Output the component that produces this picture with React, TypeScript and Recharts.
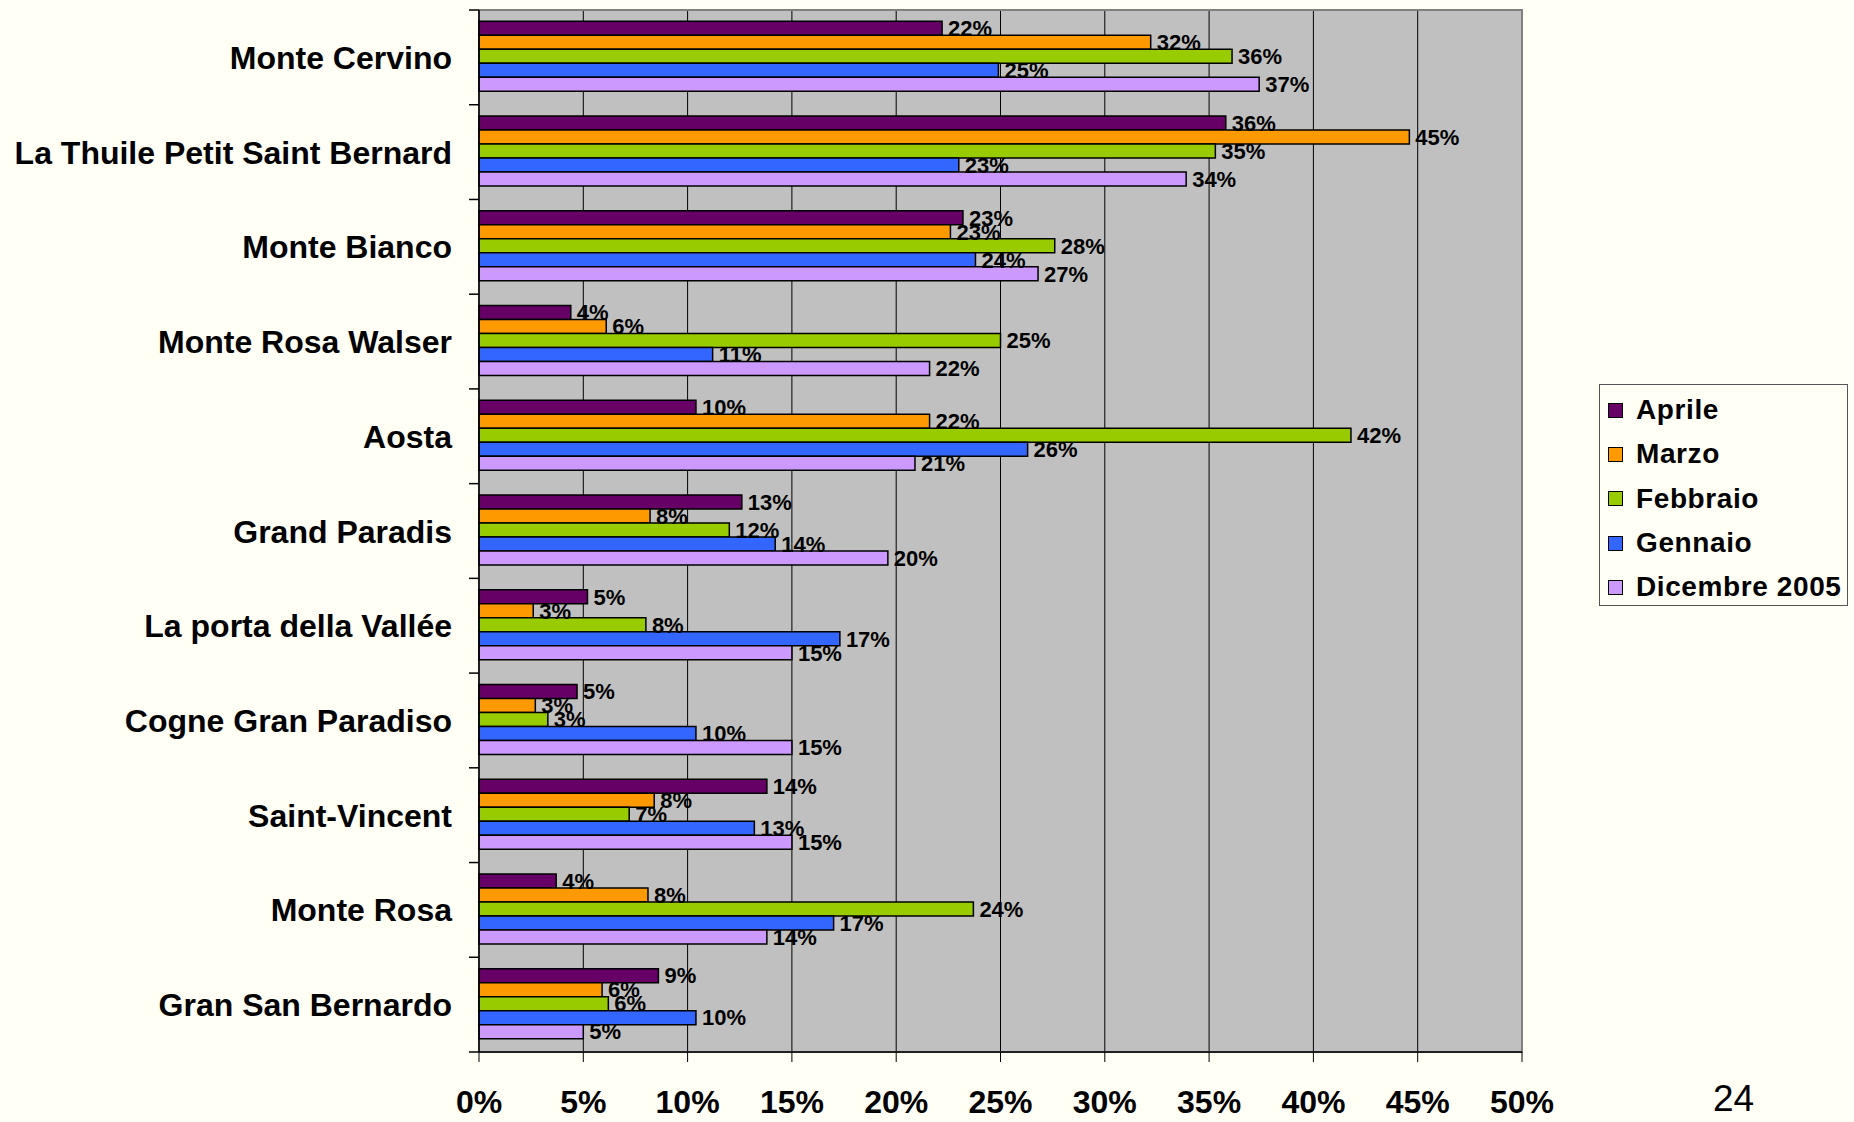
import React from 'react';
import { BarChart, Bar, XAxis, YAxis, CartesianGrid, Legend, LabelList, ReferenceArea } from 'recharts';

const categories = [
  'Monte Cervino',
  'La Thuile Petit Saint Bernard',
  'Monte Bianco',
  'Monte Rosa Walser',
  'Aosta',
  'Grand Paradis',
  'La porta della Vallée',
  'Cogne Gran Paradiso',
  'Saint-Vincent',
  'Monte Rosa',
  'Gran San Bernardo',
];

const aprile = [22.2, 35.8, 23.2, 4.4, 10.4, 12.6, 5.2, 4.7, 13.8, 3.7, 8.6];
const marzo = [32.2, 44.6, 22.6, 6.1, 21.6, 8.2, 2.6, 2.7, 8.4, 8.1, 5.9];
const febbraio = [36.1, 35.3, 27.6, 25.0, 41.8, 12.0, 8.0, 3.3, 7.2, 23.7, 6.2];
const gennaio = [24.9, 23.0, 23.8, 11.2, 26.3, 14.2, 17.3, 10.4, 13.2, 17.0, 10.4];
const dicembre = [37.4, 33.9, 26.8, 21.6, 20.9, 19.6, 15.0, 15.0, 15.0, 13.8, 5.0];

const xTicks = [0, 5, 10, 15, 20, 25, 30, 35, 40, 45, 50];

const series = [
  { key: 'aprile', name: 'Aprile', color: '#660066', values: aprile },
  { key: 'marzo', name: 'Marzo', color: '#FF9900', values: marzo },
  { key: 'febbraio', name: 'Febbraio', color: '#99CC00', values: febbraio },
  { key: 'gennaio', name: 'Gennaio', color: '#3366FF', values: gennaio },
  { key: 'dicembre', name: 'Dicembre 2005', color: '#CC99FF', values: dicembre },
];

const data = categories.map((name, i) => {
  const row: Record<string, string | number> = { name };
  series.forEach((s) => {
    row[s.key] = s.values[i];
  });
  return row;
});

const FONT = "'Liberation Sans', Arial, Helvetica, sans-serif";
const BG = '#FFFFF6';
const TICK_GAP = 27;

// category label plus the small tick marks at the band edges
const CategoryTick = (props: any) => {
  const { x, y, payload, index } = props;
  const half = payload?.offset ?? 0;
  const axisX = x + TICK_GAP;
  return (
    <g>
      <line x1={axisX - 10} x2={axisX} y1={y - half} y2={y - half} stroke="#000" strokeWidth={1.5} />
      {index === categories.length - 1 && (
        <line x1={axisX - 10} x2={axisX} y1={y + half} y2={y + half} stroke="#000" strokeWidth={1.5} />
      )}
      <text
        x={x}
        y={y}
        dy="0.36em"
        textAnchor="end"
        fill="#000"
        fontSize={32}
        fontWeight="bold"
        fontFamily={FONT}
      >
        {payload.value}
      </text>
    </g>
  );
};

const LegendBox = () => (
  <div
    style={{
      border: '1px solid #555',
      background: BG,
      padding: '3px 0 0 8px',
      boxSizing: 'border-box',
      width: 249,
      height: 222,
      fontFamily: FONT,
    }}
  >
    {series.map((s) => (
      <div key={s.key} style={{ display: 'flex', alignItems: 'center', height: 44.3 }}>
        <span
          style={{
            display: 'inline-block',
            width: 13,
            height: 13,
            background: s.color,
            border: '1.5px solid #000',
            marginRight: 13,
          }}
        />
        <span style={{ fontSize: 28, fontWeight: 'bold', color: '#000', letterSpacing: 0.6 }}>{s.name}</span>
      </div>
    ))}
  </div>
);

const App = () => {
  return (
    <div style={{ position: 'absolute', left: 0, top: 0, width: 1854, height: 1122, background: BG, overflow: 'hidden' }}>
      <BarChart
        width={1854}
        height={1122}
        data={data}
        layout="vertical"
        margin={{ top: 10, right: 332, bottom: 0, left: 0 }}
        barCategoryGap="12%"
        barGap={0}
      >
        <CartesianGrid horizontal={false} stroke="#000" strokeWidth={1} fill="#C0C0C0" fillOpacity={1} />
        <ReferenceArea x1={0} x2={50} fill="none" stroke="#808080" strokeWidth={2} ifOverflow="visible" />
        <XAxis
          type="number"
          domain={[0, 50]}
          ticks={xTicks}
          tickFormatter={(v: number) => `${v}%`}
          height={70}
          tickSize={10}
          tickMargin={28}
          axisLine={{ stroke: '#000', strokeWidth: 1.5 }}
          tickLine={{ stroke: '#000' }}
          tick={{ fill: '#000', fontSize: 32, fontWeight: 'bold', fontFamily: FONT }}
          interval={0}
        />
        <YAxis
          type="category"
          dataKey="name"
          width={479}
          axisLine={{ stroke: '#000', strokeWidth: 1.5 }}
          tickLine={false}
          tickSize={0}
          tickMargin={TICK_GAP}
          interval={0}
          tick={<CategoryTick />}
        />
        <Legend
          layout="vertical"
          align="center"
          verticalAlign="middle"
          content={() => <LegendBox />}
          wrapperStyle={{ position: 'absolute', left: 1599, top: 384, width: 249, height: 222 }}
        />
        {series.map((s) => (
          <Bar
            key={s.key}
            dataKey={s.key}
            name={s.name}
            fill={s.color}
            stroke="#000"
            strokeWidth={1.5}
            isAnimationActive={false}
          >
            <LabelList
              dataKey={s.key}
              position="right"
              offset={6}
              formatter={(v: number) => `${Math.round(v)}%`}
              style={{ fill: '#000', fontSize: 22, fontWeight: 'bold', fontFamily: FONT }}
            />
          </Bar>
        ))}
      </BarChart>
      <div
        style={{
          position: 'absolute',
          left: 1713,
          top: 1080,
          fontFamily: FONT,
          fontSize: 37,
          color: '#000',
          lineHeight: 1,
        }}
      >
        24
      </div>
    </div>
  );
};

export default App;
